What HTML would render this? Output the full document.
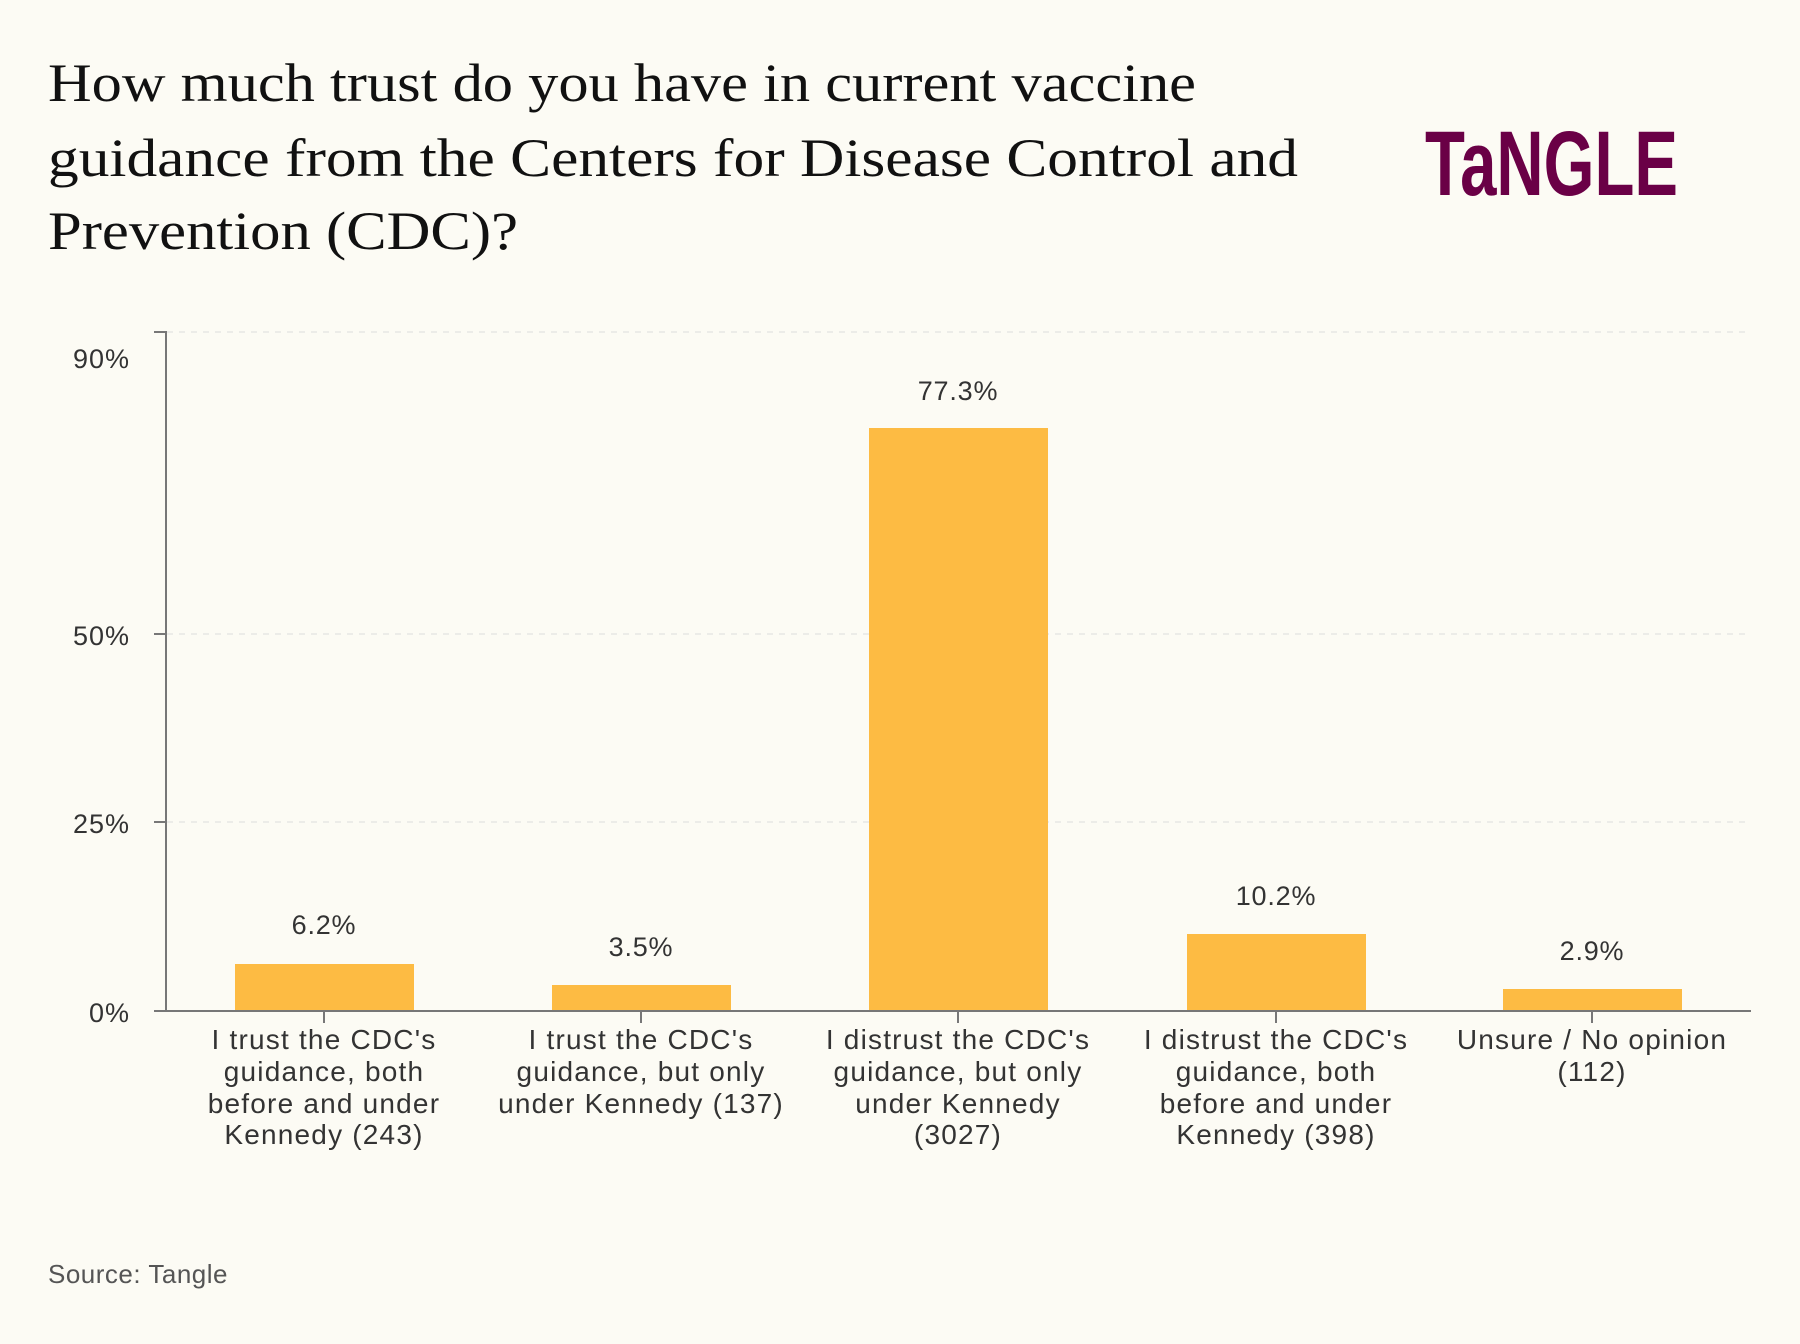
<!DOCTYPE html>
<html><head><meta charset="utf-8"><style>
html,body{margin:0;padding:0;background:#fcfbf4;}
svg{display:block;}
</style></head><body>
<svg width="1800" height="1344" viewBox="0 0 1800 1344" xmlns="http://www.w3.org/2000/svg">
<rect width="1800" height="1344" fill="#fcfbf4"/>
<g font-family="Liberation Serif, serif" font-size="54" fill="#111">
<text x="48" y="101" textLength="1148" lengthAdjust="spacingAndGlyphs">How much trust do you have in current vaccine</text>
<text x="48" y="176" textLength="1250" lengthAdjust="spacingAndGlyphs">guidance from the Centers for Disease Control and</text>
<text x="48" y="249" textLength="470" lengthAdjust="spacingAndGlyphs">Prevention (CDC)?</text>
</g>
<text x="1425" y="195" font-family="Liberation Sans Narrow, Liberation Sans, sans-serif" font-weight="bold" font-size="92" fill="#6a0046" textLength="253" lengthAdjust="spacingAndGlyphs">TaNGLE</text>
<g stroke="#ddd" stroke-dasharray="6 6" stroke-width="1">
<line x1="167" y1="332" x2="1751" y2="332"/>
<line x1="167" y1="634" x2="1751" y2="634"/>
<line x1="167" y1="822" x2="1751" y2="822"/>
</g>
<g fill="#fdbb43">
<rect x="235" y="964" width="179" height="47"/>
<rect x="552" y="985" width="179" height="26"/>
<rect x="869" y="428" width="179" height="583"/>
<rect x="1187" y="934" width="179" height="77"/>
<rect x="1503" y="989" width="179" height="22"/>
</g>
<g stroke="#777" stroke-width="2" fill="none">
<line x1="166" y1="331" x2="166" y2="1012"/>
<line x1="154" y1="332" x2="166" y2="332"/>
<line x1="154" y1="634" x2="166" y2="634"/>
<line x1="154" y1="822" x2="166" y2="822"/>
<line x1="154" y1="1011" x2="1751" y2="1011"/>
<line x1="324" y1="1011" x2="324" y2="1023"/>
<line x1="641" y1="1011" x2="641" y2="1023"/>
<line x1="958" y1="1011" x2="958" y2="1023"/>
<line x1="1276" y1="1011" x2="1276" y2="1023"/>
<line x1="1592" y1="1011" x2="1592" y2="1023"/>
</g>
<g font-family="Liberation Sans, sans-serif" font-size="27" fill="#333" text-anchor="end" letter-spacing="1">
<text x="130" y="368">90%</text>
<text x="130" y="645">50%</text>
<text x="130" y="833">25%</text>
<text x="130" y="1022">0%</text>
</g>
<g font-family="Liberation Sans, sans-serif" font-size="27" fill="#333" text-anchor="middle" letter-spacing="0.8">
<text x="324" y="934">6.2%</text>
<text x="641" y="956">3.5%</text>
<text x="958" y="400">77.3%</text>
<text x="1276" y="905">10.2%</text>
<text x="1592" y="960">2.9%</text>
</g>
<g font-family="Liberation Sans, sans-serif" font-size="28" fill="#333" text-anchor="middle" letter-spacing="1.2">
<text x="324" y="1049">I trust the CDC's</text>
<text x="324" y="1081">guidance, both</text>
<text x="324" y="1113">before and under</text>
<text x="324" y="1144">Kennedy (243)</text>
<text x="641" y="1049">I trust the CDC's</text>
<text x="641" y="1081">guidance, but only</text>
<text x="641" y="1113">under Kennedy (137)</text>
<text x="958" y="1049">I distrust the CDC's</text>
<text x="958" y="1081">guidance, but only</text>
<text x="958" y="1113">under Kennedy</text>
<text x="958" y="1144">(3027)</text>
<text x="1276" y="1049">I distrust the CDC's</text>
<text x="1276" y="1081">guidance, both</text>
<text x="1276" y="1113">before and under</text>
<text x="1276" y="1144">Kennedy (398)</text>
<text x="1592" y="1049">Unsure / No opinion</text>
<text x="1592" y="1081">(112)</text>
</g>
<text x="48" y="1283" font-family="Liberation Sans, sans-serif" font-size="26" fill="#555" letter-spacing="0.5">Source: Tangle</text>
</svg>
</body></html>
